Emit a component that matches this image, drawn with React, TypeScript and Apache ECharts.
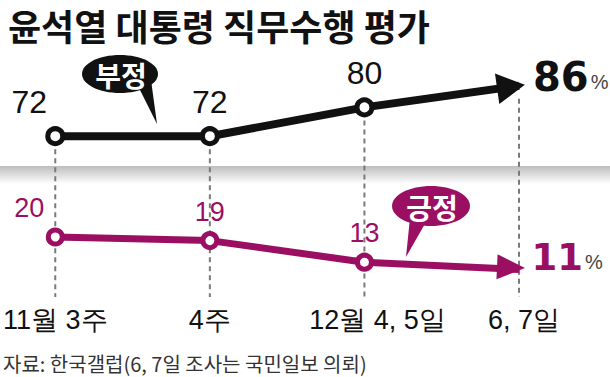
import React, { useEffect, useRef } from "react";
import * as echarts from "echarts";

const categories = ["11월 3주", "4주", "12월 4, 5일", "6, 7일"];
const negativeValues = [72, 72, 80, 86];
const positiveValues = [20, 19, 13, 11];
const titleText = "윤석열 대통령 직무수행 평가";
const sourceText = "자료: 한국갤럽(6, 7일 조사는 국민일보 의뢰)";
const negativeName = "부정";
const positiveName = "긍정";

const BLACK = "#111111";
const PURPLE = "#9b0f63";
const NARROW = "'Liberation Sans Narrow', 'Arial Narrow', 'Liberation Sans', sans-serif";
const KR = "'Noto Sans CJK KR', sans-serif";

export default function App() {
  const ref = useRef<HTMLDivElement>(null);
  useEffect(() => {
    document.body.style.margin = "0";
    if (!ref.current) return;
    const chart = echarts.init(ref.current, null, { renderer: "svg" });
    const last = negativeValues.length - 1;

    const topData = negativeValues.map((v, i) => {
      if (i === last) {
        return {
          value: v,
          symbol: "triangle",
          symbolSize: [31, 28],
          symbolRotate: -82,
          symbolOffset: [-8, 1],
          itemStyle: { color: BLACK, borderWidth: 0 },
          label: {
            position: "right",
            distance: 6,
            offset: [0, -10],
            formatter: "{b|{c}}{p|%}",
          },
        };
      }
      if (i === 0) return { value: v, label: { offset: [-26, 0] } };
      return v;
    });

    const bottomData = positiveValues.map((v, i) => {
      if (i === last) {
        return {
          value: v,
          symbol: "triangle",
          symbolSize: [25, 28],
          symbolRotate: -92.6,
          symbolOffset: [-8, -2],
          itemStyle: { color: PURPLE, borderWidth: 0 },
          label: {
            position: "right",
            distance: 6,
            offset: [0, -10],
            formatter: "{b|{c}}{p|%}",
          },
        };
      }
      if (i === 0) return { value: v, label: { offset: [-26, 0] } };
      return v;
    });

    const categoryData = categories.map((c, i) => {
      if (i === 2) return { value: c, textStyle: { padding: [0, 0, 0, 26] } };
      if (i === 3) return { value: c, textStyle: { padding: [0, 0, 0, 10] } };
      return c;
    });

    const option: any = {
      animation: false,
      backgroundColor: "#ffffff",
      title: [
        {
          text: titleText,
          left: 3,
          top: 2,
          textStyle: { fontSize: 36, fontWeight: "bold", fontFamily: KR, color: BLACK },
        },
        {
          text: sourceText,
          left: 3,
          top: 352,
          padding: 0,
          textStyle: { fontSize: 20, lineHeight: 22, fontWeight: "normal", fontFamily: KR, color: "#333" },
        },
      ],
      graphic: [
        {
          type: "rect",
          z: 0,
          shape: { x: 0, y: 166, width: 610, height: 18 },
          style: {
            fill: new echarts.graphic.LinearGradient(0, 0, 0, 1, [
              { offset: 0, color: "#bdbdbd" },
              { offset: 1, color: "#ffffff" },
            ]),
          },
        },
        {
          type: "group",
          z: 20,
          children: [
            { type: "polygon", shape: { points: [[137, 84], [151, 80], [157, 124]] }, style: { fill: BLACK } },
            { type: "ellipse", shape: { cx: 120, cy: 74, rx: 38, ry: 19 }, style: { fill: BLACK } },
            {
              type: "text",
              x: 121,
              y: 75,
              style: { text: negativeName, fill: "#fff", font: `bold 28px ${KR}`, align: "center", verticalAlign: "middle" },
            },
            { type: "polygon", shape: { points: [[410, 218], [426, 222], [406, 257]] }, style: { fill: PURPLE } },
            { type: "ellipse", shape: { cx: 431, cy: 206, rx: 39, ry: 20 }, style: { fill: PURPLE } },
            {
              type: "text",
              x: 432,
              y: 207,
              style: { text: positiveName, fill: "#fff", font: `bold 28px ${KR}`, align: "center", verticalAlign: "middle" },
            },
          ],
        },
      ],
      grid: { left: 54, right: 91, top: 64.2, bottom: 68, containLabel: false },
      xAxis: {
        type: "category",
        data: categoryData,
        boundaryGap: false,
        axisLine: { show: false },
        axisTick: { show: false },
        splitLine: { show: false },
        axisLabel: { interval: 0, margin: 0, fontSize: 27, fontFamily: NARROW, color: BLACK, lineHeight: 22 },
      },
      yAxis: [
        { type: "value", min: 24, max: 92, show: false, splitLine: { show: false } },
        { type: "value", min: 0, max: 68, show: false, splitLine: { show: false } },
      ],
      series: [
        {
          type: "custom",
          yAxisIndex: 0,
          z: 1,
          silent: true,
          data: negativeValues.map((v, i) => [i, v]),
          renderItem: (params: any, api: any) => {
            const p = api.coord([api.value(0), api.value(1)]);
            const bottom = params.coordSys.y + params.coordSys.height - 12;
            return {
              type: "line",
              shape: { x1: p[0], y1: p[1] + 13, x2: p[0], y2: bottom },
              style: { stroke: "#7a7a7a", lineWidth: 2, lineDash: [5, 4] },
            };
          },
        },
        {
          type: "line",
          name: negativeName,
          yAxisIndex: 0,
          z: 5,
          data: topData,
          symbol: "circle",
          symbolSize: 15,
          lineStyle: { color: BLACK, width: 8 },
          itemStyle: { color: "#fff", borderColor: BLACK, borderWidth: 5 },
          label: {
            show: true,
            position: "top",
            distance: 8,
            fontSize: 32,
            fontFamily: NARROW,
            color: BLACK,
            rich: {
              b: { fontSize: 40, fontWeight: "bold", fontFamily: "'DejaVu Sans', sans-serif", color: BLACK },
              p: { fontSize: 20, fontFamily: "'Liberation Sans', sans-serif", color: "#444", padding: [10, 0, 0, 2] },
            },
          },
        },
        {
          type: "line",
          name: positiveName,
          yAxisIndex: 1,
          z: 5,
          data: bottomData,
          symbol: "circle",
          symbolSize: 14,
          lineStyle: { color: PURPLE, width: 7 },
          itemStyle: { color: "#fff", borderColor: PURPLE, borderWidth: 5 },
          label: {
            show: true,
            position: "top",
            distance: 6,
            fontSize: 27,
            fontFamily: NARROW,
            color: PURPLE,
            rich: {
              b: { fontSize: 37, fontWeight: "bold", fontFamily: "'DejaVu Sans', sans-serif", color: PURPLE },
              p: { fontSize: 20, fontFamily: "'Liberation Sans', sans-serif", color: "#444", padding: [10, 0, 0, 2] },
            },
          },
        },
      ],
    };
    chart.setOption(option);
    return () => chart.dispose();
  }, []);
  return <div ref={ref} style={{ width: 610, height: 377 }} />;
}
